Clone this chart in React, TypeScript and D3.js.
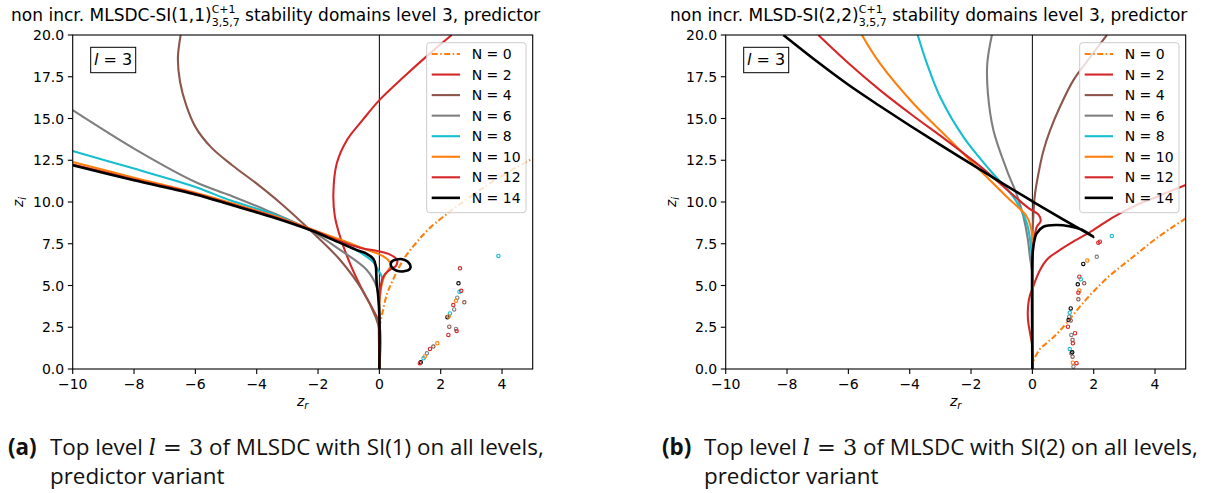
import React from 'react';
import * as d3 from 'd3';

type Pt = [number, number];
type Dot = [number, number, number];

const X_TICKS = [-10, -8, -6, -4, -2, 0, 2, 4];
const Y_TICKS = [0, 2.5, 5, 7.5, 10, 12.5, 15, 17.5, 20];
const N_VALUES = [0, 2, 4, 6, 8, 10, 12, 14];
const N_COLORS: Record<number, string> = {
  0: '#ff7f0e', 2: '#d62728', 4: '#8c564b', 6: '#7f7f7f',
  8: '#17becf', 10: '#ff7f0e', 12: '#d62728', 14: '#000000',
};

// ---------- left panel: MLSDC-SI(1,1) ----------
const leftN0: Pt[] = [[0, 2.5], [0.08, 3.2], [0.25, 4.5], [0.46, 5.4], [0.8, 6.6], [1.22, 7.6], [1.65, 8.45], [2.5, 9.7], [3.5, 11.0], [4.3, 11.9], [5.0, 12.6]];
const leftN2: Pt[] = [[2.36, 20], [1.65, 18.9], [0.8, 17.5], [0, 16.1], [-0.55, 14.9], [-1.06, 13.7], [-1.39, 12.3], [-1.5, 10.5], [-1.45, 9.12], [-1.28, 7.92], [-0.96, 6.33], [-0.6, 4.9], [-0.2, 3.53], [0, 2.7], [0, 0]];
const leftN4: Pt[] = [[-6.48, 20], [-6.57, 18.6], [-6.5, 17.2], [-6.3, 15.8], [-6.0, 14.5], [-5.5, 13.3], [-4.8, 12.2], [-4.0, 11.1], [-3.2, 9.9], [-2.26, 8.32], [-1.28, 6.53], [-0.55, 4.7], [-0.12, 3.1], [0, 2.3], [0, 0]];
const leftN6: Pt[] = [[-10, 15.5], [-8, 13.2], [-6, 11.2], [-4.87, 10.4], [-3.67, 9.5], [-2.26, 8.32], [-1.28, 7.13], [-0.41, 5.93], [-0.09, 4.93], [0, 3.7], [0, 0]];
const leftN8: Pt[] = [[-10, 13.05], [-8, 12.0], [-6, 10.9], [-4.87, 10.1], [-3.5, 9.3], [-2.26, 8.35], [-1.28, 7.6], [-0.6, 6.95], [-0.2, 6.4], [-0.05, 5.95], [0.08, 5.5], [0.05, 4.9], [0, 4.0], [0, 0]];
const leftN10: Pt[] = [[-10, 12.4], [-8, 11.45], [-6, 10.55], [-4.87, 9.95], [-3.5, 9.2], [-2.26, 8.4], [-1.28, 7.75], [-0.5, 7.2], [0.02, 6.85], [0.3, 6.5], [0.38, 6.2], [0.28, 5.9], [0.15, 5.5], [0.05, 4.8], [0, 4.0], [0, 0]];
const leftN12: Pt[] = [[-10, 12.25], [-8, 11.35], [-6, 10.5], [-4.87, 9.9], [-3.5, 9.15], [-2.26, 8.38], [-1.28, 7.65], [-0.6, 7.25], [-0.03, 7.05], [0.35, 6.85], [0.57, 6.55], [0.55, 6.2], [0.35, 5.95], [0.15, 5.6], [0.05, 5.0], [0, 4.2], [0, 0]];
const leftN14: Pt[] = [[-10, 12.2], [-8, 11.3], [-6, 10.45], [-4.87, 9.85], [-3.5, 9.1], [-2.26, 8.32], [-1.28, 7.55], [-0.7, 7.1], [-0.41, 6.9], [-0.2, 6.6], [-0.12, 6.2], [-0.09, 5.2], [-0.04, 4.4], [0, 3.2], [0, 0]];
const leftN14Loop: Pt[] = [[0.38, 6.37], [0.55, 6.55], [0.8, 6.55], [1.0, 6.25], [1.0, 6.0], [0.8, 5.85], [0.55, 5.9], [0.4, 6.1]];
const leftDots: Dot[] = [
  [2.63, 6.03, 12], [3.88, 6.77, 8], [2.58, 5.13, 14], [2.61, 4.63, 8], [2.67, 4.68, 2], [2.54, 4.27, 6],
  [2.5, 4.09, 10], [2.77, 3.99, 4], [2.41, 3.83, 2], [2.44, 3.57, 6], [2.3, 3.33, 8], [2.22, 3.1, 14],
  [2.26, 3.15, 10], [2.28, 2.53, 4], [2.5, 2.4, 6], [2.52, 2.28, 12], [2.25, 2.04, 2], [1.89, 1.54, 10],
  [1.76, 1.34, 4], [1.65, 1.2, 12], [1.55, 0.94, 6], [1.44, 0.64, 8], [1.35, 0.4, 14], [1.32, 0.35, 2], [1.48, 0.75, 10],
];

// ---------- right panel: MLSD-SI(2,2) ----------
const rightN0: Pt[] = [[0, 0], [0.03, 0.45], [0.25, 1.2], [0.5, 1.6], [0.9, 2.3], [1.77, 4.2], [2.5, 5.55], [3.29, 6.72], [4.1, 7.9], [5.0, 9.02]];
const rightN2: Pt[] = [[5.0, 11.02], [4.1, 10.35], [3.29, 9.72], [2.6, 9.05], [1.99, 8.32], [1.4, 7.7], [0.9, 7.13], [0.5, 6.6], [0.25, 5.93], [0.1, 5.3], [0.03, 4.93], [-0.08, 4.4], [-0.13, 3.93], [-0.15, 3.3], [-0.13, 2.74], [-0.05, 1.9], [0, 1.34], [0, 0]];
const rightN4: Pt[] = [[2.43, 20], [1.9, 18.7], [1.34, 17.3], [0.9, 15.7], [0.58, 14.3], [0.35, 13], [0.2, 11.72], [0.08, 10.4], [0.03, 9.12], [0, 7.5], [0, 0]];
const rightN6: Pt[] = [[-1.32, 20], [-1.47, 18.3], [-1.45, 16.5], [-1.27, 14.3], [-0.83, 11.9], [-0.5, 10.4], [-0.29, 9.12], [-0.15, 7.8], [-0.08, 6.72], [0, 5.5], [0, 0]];
const rightN8: Pt[] = [[-3.74, 20], [-3.44, 18.3], [-3.01, 16.3], [-2.25, 13.9], [-1.38, 11.9], [-0.62, 10.3], [-0.18, 8.72], [-0.03, 7.0], [0, 5.5], [0, 0]];
const rightN10: Pt[] = [[-5.56, 20], [-4.97, 18.3], [-3.88, 15.9], [-2.79, 13.9], [-1.71, 11.9], [-0.83, 10.3], [-0.18, 9.12], [-0.03, 8.3], [0, 6.5], [0, 0]];
const rightN12: Pt[] = [[-6.98, 20], [-6.05, 18.4], [-4.97, 16.7], [-3.88, 15.15], [-2.79, 13.68], [-1.71, 12.15], [-0.62, 10.4], [-0.1, 9.6], [0.2, 9.25], [0.27, 8.85], [0.14, 8.5], [0.03, 7.3], [0, 6.0], [0, 0]];
const rightN14: Pt[] = [[-8.12, 20], [-7, 18.38], [-6, 17.02], [-5, 15.78], [-4, 14.58], [-3, 13.42], [-2, 12.28], [-1, 11.14], [0, 10.04], [1, 8.96], [1.99, 7.92], [1.6, 8.35], [1.2, 8.55], [0.8, 8.62], [0.36, 8.52], [0.14, 8.12], [0.03, 7.32], [0, 6.5], [0, 0]];
const rightDots: Dot[] = [
  [2.59, 7.96, 8], [2.15, 7.56, 12], [2.2, 7.62, 2], [2.1, 6.72, 6], [1.79, 6.49, 10], [1.66, 6.29, 14],
  [1.53, 5.53, 12], [1.58, 5.37, 8], [1.69, 5.13, 4], [1.48, 5.07, 14], [1.53, 4.7, 10], [1.5, 4.57, 2],
  [1.5, 4.17, 4], [1.25, 3.63, 14], [1.22, 3.37, 8], [1.2, 3.13, 6], [1.18, 2.93, 14], [1.25, 2.9, 4],
  [1.16, 2.53, 12], [1.39, 2.14, 2], [1.27, 2.04, 6], [1.31, 1.74, 4], [1.32, 1.54, 12], [1.27, 0.94, 6],
  [1.31, 0.74, 4], [1.32, 0.38, 10], [1.44, 0.35, 2], [1.34, 0.14, 6], [1.22, 1.2, 8], [1.3, 1.0, 14],
];

const LEFT_CURVES = [leftN0, leftN2, leftN4, leftN6, leftN8, leftN10, leftN12, leftN14];
const RIGHT_CURVES = [rightN0, rightN2, rightN4, rightN6, rightN8, rightN10, rightN12, rightN14];

const FONT = 'DejaVu Sans, sans-serif';
const TOP = 35;
const BOTTOM = 369;
const W = 460;

function fmtX(v: number) {
  return v < 0 ? '\u2212' + Math.abs(v) : String(v);
}

function Panel(props: {
  id: string; left: number; curves: Pt[][]; loops: Pt[][]; dots: Dot[];
  titleMain: string;
}) {
  const { id, left, curves, loops, dots, titleMain } = props;
  const x = d3.scaleLinear().domain([-10, 5]).range([left, left + W]);
  const y = d3.scaleLinear().domain([0, 20]).range([BOTTOM, TOP]);
  const line = d3.line<Pt>().x(d => x(d[0])).y(d => y(d[1])).curve(d3.curveCatmullRom.alpha(0.5));
  const loopLine = d3.line<Pt>().x(d => x(d[0])).y(d => y(d[1])).curve(d3.curveCatmullRomClosed.alpha(0.5));
  const legX = left + W - 106;
  const legY = 42.7;
  const rowH = 20.55;
  const cx = left + W / 2;
  return (
    <g>
      <defs>
        <clipPath id={id}>
          <rect x={left} y={TOP} width={W} height={BOTTOM - TOP} />
        </clipPath>
      </defs>
      {/* title */}
      <text x={cx - 27} y={21} textAnchor="middle" fontFamily={FONT} fontSize={17} style={{ whiteSpace: 'pre' }}>
        <tspan>{titleMain}</tspan>
        <tspan fontSize={11} dy={-8}>C+1</tspan>
        <tspan fontSize={11} dx={-23.9} dy={13}>3,5,7</tspan>
        <tspan dy={-5}> stability domains level 3, predictor</tspan>
      </text>
      <g clipPath={`url(#${id})`}>
        <line x1={x(0)} x2={x(0)} y1={y(0)} y2={y(20)} stroke="#000" strokeWidth={1} />
        {curves.map((c, i) => (
          <path key={i} d={line(c) || ''} fill="none" stroke={N_COLORS[N_VALUES[i]]}
            strokeWidth={N_VALUES[i] === 14 ? 2.6 : 2.1}
            strokeDasharray={N_VALUES[i] === 0 ? '6,2.5,1.5,2.5' : undefined} />
        ))}
        {loops.map((c, i) => (
          <path key={'l' + i} d={loopLine(c) || ''} fill="none" stroke="#000" strokeWidth={2.6} />
        ))}
        {dots.map((d, i) => (
          <circle key={'d' + i} cx={x(d[0])} cy={y(d[1])} r={1.7} fill="none" stroke={N_COLORS[d[2]]} strokeWidth={1.1} />
        ))}
      </g>
      {/* spines */}
      <rect x={left} y={TOP} width={W} height={BOTTOM - TOP} fill="none" stroke="#000" strokeWidth={1.1} />
      {X_TICKS.map(t => (
        <g key={'x' + t}>
          <line x1={x(t)} x2={x(t)} y1={BOTTOM} y2={BOTTOM + 4.9} stroke="#000" strokeWidth={1.1} />
          <text x={x(t)} y={BOTTOM + 20} textAnchor="middle" fontFamily={FONT} fontSize={14}>{fmtX(t)}</text>
        </g>
      ))}
      {Y_TICKS.map(t => (
        <g key={'y' + t}>
          <line x1={left - 4.9} x2={left} y1={y(t)} y2={y(t)} stroke="#000" strokeWidth={1.1} />
          <text x={left - 8.5} y={y(t) + 5} textAnchor="end" fontFamily={FONT} fontSize={14}>{t.toFixed(1)}</text>
        </g>
      ))}
      {/* axis labels */}
      <text x={cx} y={406} textAnchor="middle" fontFamily={FONT} fontSize={14}>
        <tspan fontStyle="italic">z</tspan><tspan fontSize={10} dy={3} fontStyle="italic">r</tspan>
      </text>
      <text transform={`translate(${left - 50},${(TOP + BOTTOM) / 2}) rotate(-90)`} textAnchor="middle" fontFamily={FONT} fontSize={14}>
        <tspan fontStyle="italic">z</tspan><tspan fontSize={10} dy={3} fontStyle="italic">i</tspan>
      </text>
      {/* l = 3 box */}
      <rect x={left + 18} y={47.3} width={45} height={25.4} fill="#fff" stroke="#000" strokeWidth={1} />
      <text x={left + 40.5} y={65} textAnchor="middle" fontFamily={FONT} fontSize={16} style={{ whiteSpace: 'pre' }}>
        <tspan fontStyle="italic">l</tspan><tspan> = 3</tspan>
      </text>
      {/* legend */}
      <g transform={`translate(${legX},${legY})`}>
        <rect x={0} y={0} width={99.3} height={170} rx={3} fill="#fff" fillOpacity={0.8} stroke="#cccccc" strokeWidth={1} />
        {N_VALUES.map((n, i) => {
          const ry = 11.3 + i * rowH;
          return (
            <g key={'lg' + n}>
              <line x1={5} x2={33.3} y1={ry} y2={ry} stroke={N_COLORS[n]} strokeWidth={n === 14 ? 2.6 : 2.1}
                strokeDasharray={n === 0 ? '6,2.5,1.5,2.5' : undefined} />
              <text x={45} y={ry + 5} fontFamily={FONT} fontSize={14}>{`N = ${n}`}</text>
            </g>
          );
        })}
      </g>
    </g>
  );
}

function Caption(props: { left: number; tag: string; si: string }) {
  const { left, tag, si } = props;
  const f = 'Open Sans, Noto Sans, sans-serif';
  return (
    <g fontFamily={f} fontSize={22.4} fill="#111">
      <text x={left} y={455} fontWeight="bold">{tag}</text>
      <text x={left + 42} y={455} style={{ whiteSpace: 'pre' }}>
        <tspan>Top level </tspan>
        <tspan fontFamily="DejaVu Serif, serif" fontStyle="italic">l</tspan>
        <tspan fontFamily="DejaVu Serif, serif"> = 3</tspan>
        <tspan>{` of MLSDC with ${si} on all levels,`}</tspan>
      </text>
      <text x={left + 42} y={484}>predictor variant</text>
    </g>
  );
}

export default function App() {
  return (
    <svg width={1205} height={493} style={{ position: 'absolute', left: 0, top: 0, background: '#fff' }}>
      <rect x={0} y={0} width={1205} height={493} fill="#fff" />
      <Panel id="clipL" left={72.7} curves={LEFT_CURVES} loops={[leftN14Loop]} dots={leftDots}
        titleMain="non incr. MLSDC-SI(1,1)" />
      <Panel id="clipR" left={725.7} curves={RIGHT_CURVES} loops={[]} dots={rightDots}
        titleMain="non incr. MLSD-SI(2,2)" />
      <Caption left={8} tag="(a)" si="SI(1)" />
      <Caption left={662} tag="(b)" si="SI(2)" />
    </svg>
  );
}
